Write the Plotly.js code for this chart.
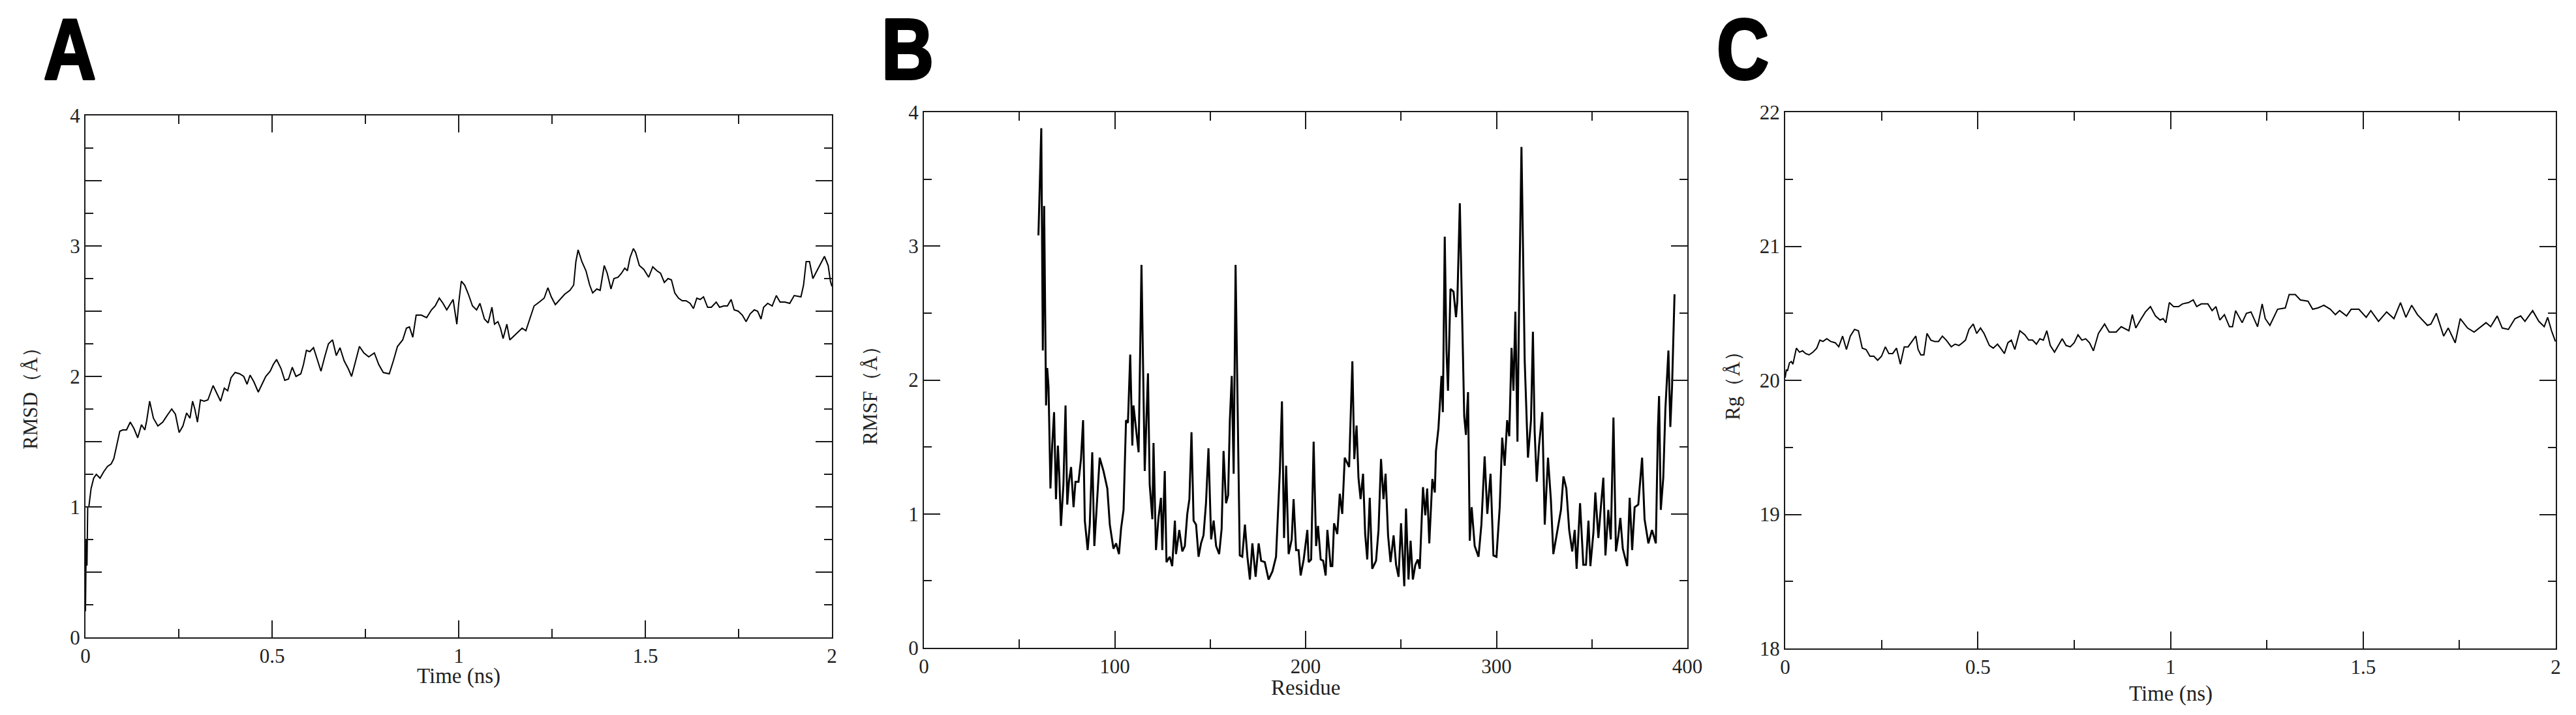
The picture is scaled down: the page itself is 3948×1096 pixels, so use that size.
<!DOCTYPE html>
<html>
<head>
<meta charset="utf-8">
<script src="https://cdn.plot.ly/plotly-3.0.1.min.js"></script>
<style>
  html, body { margin: 0; padding: 0; background: #ffffff; }
  #chart { width: 3948px; height: 1096px; }
</style>
</head>
<body>
<div id="chart"></div>
<script>
// ---------------- Panel A: RMSD vs time ----------------
const rmsdTime = [
  0, 0.002, 0.004, 0.006, 0.009, 0.015, 0.022, 0.029, 0.039, 0.049,
  0.059, 0.069, 0.076, 0.083, 0.092, 0.100, 0.110, 0.120, 0.130, 0.140,
  0.150, 0.159, 0.164, 0.172, 0.182, 0.194, 0.207, 0.221, 0.231, 0.241,
  0.251, 0.261, 0.271, 0.280, 0.287, 0.293, 0.300, 0.308, 0.318, 0.328,
  0.342, 0.352, 0.362, 0.372, 0.381, 0.390, 0.401, 0.413, 0.424, 0.433,
  0.441, 0.451, 0.463, 0.473, 0.483, 0.495, 0.503, 0.512, 0.524, 0.534,
  0.544, 0.554, 0.564, 0.577, 0.584, 0.592, 0.601, 0.611, 0.621, 0.631,
  0.641, 0.651, 0.662, 0.672, 0.682, 0.693, 0.704, 0.713, 0.724, 0.734,
  0.746, 0.759, 0.774, 0.786, 0.798, 0.814, 0.825, 0.836, 0.850, 0.860,
  0.868, 0.877, 0.886, 0.900, 0.914, 0.927, 0.937, 0.948, 0.958, 0.968,
  0.985, 0.995, 1.000, 1.007, 1.016, 1.026, 1.037, 1.048, 1.057, 1.069,
  1.079, 1.089, 1.096, 1.105, 1.112, 1.119, 1.129, 1.137, 1.148, 1.159,
  1.170, 1.180, 1.191, 1.202, 1.216, 1.229, 1.239, 1.248, 1.259, 1.272,
  1.284, 1.298, 1.308, 1.314, 1.320, 1.330, 1.341, 1.351, 1.359, 1.370,
  1.379, 1.390, 1.398, 1.408, 1.416, 1.427, 1.436, 1.445, 1.452, 1.459,
  1.468, 1.474, 1.484, 1.496, 1.509, 1.520, 1.531, 1.541, 1.551, 1.561,
  1.570, 1.579, 1.589, 1.599, 1.609, 1.620, 1.629, 1.638, 1.647, 1.656,
  1.667, 1.677, 1.690, 1.699, 1.710, 1.720, 1.730, 1.738, 1.749, 1.760,
  1.770, 1.781, 1.792, 1.801, 1.810, 1.817, 1.828, 1.840, 1.851, 1.861,
  1.874, 1.887, 1.899, 1.917, 1.924, 1.931, 1.940, 1.949, 1.960, 1.969,
  1.980, 1.990, 1.996, 2.000
];
const rmsdValue = [
  0.20, 0.75, 0.55, 1.00, 1.00, 1.14, 1.22, 1.25, 1.22, 1.27,
  1.31, 1.33, 1.37, 1.47, 1.58, 1.59, 1.59, 1.65, 1.60, 1.53,
  1.63, 1.59, 1.66, 1.81, 1.68, 1.62, 1.65, 1.71, 1.75, 1.71,
  1.57, 1.62, 1.72, 1.68, 1.81, 1.75, 1.65, 1.82, 1.81, 1.82,
  1.93, 1.87, 1.81, 1.91, 1.89, 1.99, 2.03, 2.02, 2.00, 1.94,
  2.01, 1.96, 1.88, 1.94, 2.00, 2.04, 2.09, 2.13, 2.06, 1.97,
  1.98, 2.07, 2.00, 2.02, 2.09, 2.20, 2.19, 2.22, 2.13, 2.04,
  2.15, 2.25, 2.28, 2.16, 2.22, 2.12, 2.06, 2.00, 2.12, 2.23,
  2.18, 2.15, 2.18, 2.09, 2.03, 2.02, 2.12, 2.23, 2.28, 2.37,
  2.38, 2.30, 2.47, 2.47, 2.45, 2.51, 2.54, 2.60, 2.56, 2.51,
  2.59, 2.40, 2.56, 2.73, 2.70, 2.63, 2.54, 2.51, 2.56, 2.44,
  2.41, 2.53, 2.40, 2.42, 2.37, 2.29, 2.40, 2.28, 2.31, 2.34,
  2.37, 2.35, 2.44, 2.54, 2.57, 2.60, 2.68, 2.61, 2.55, 2.59,
  2.63, 2.66, 2.70, 2.88, 2.97, 2.88, 2.81, 2.70, 2.64, 2.67,
  2.66, 2.85, 2.79, 2.67, 2.75, 2.76, 2.79, 2.83, 2.81, 2.91,
  2.98, 2.95, 2.85, 2.82, 2.76, 2.84, 2.81, 2.79, 2.72, 2.75,
  2.74, 2.64, 2.60, 2.58, 2.58, 2.56, 2.52, 2.60, 2.59, 2.61,
  2.53, 2.53, 2.57, 2.53, 2.54, 2.54, 2.59, 2.51, 2.50, 2.47,
  2.42, 2.48, 2.51, 2.50, 2.44, 2.53, 2.56, 2.54, 2.62, 2.57,
  2.57, 2.56, 2.62, 2.61, 2.70, 2.88, 2.88, 2.75, 2.81, 2.86,
  2.92, 2.85, 2.73, 2.69
];

// ---------------- Panel B: RMSF vs residue ----------------
const rmsfResidue = [
  60.0, 61.5, 62.3, 63.0, 64.0, 64.6, 65.3, 66.3, 67.2, 68.2,
  69.2, 70.2, 70.9, 71.8, 73.1, 74.2, 75.1, 76.0, 77.1, 78.4,
  79.4, 81.0, 82.3, 83.4, 84.3, 85.8, 86.9, 88.2, 89.3, 90.6,
  92.1, 94.1, 96.1, 97.4, 99.3, 100.7, 102.2, 103.3, 104.6, 105.9,
  106.9, 108.1, 109.2, 109.8, 111.1, 112.5, 114.0, 114.8, 115.7, 117.4,
  118.3, 119.7, 120.3, 121.6, 122.9, 124.2, 124.9, 126.2, 127.1, 128.8,
  130.1, 131.5, 132.1, 133.8, 135.4, 136.7, 138.0, 139.1, 140.2, 141.3,
  142.6, 143.9, 145.2, 146.5, 147.8, 149.1, 150.5, 151.8, 153.1, 154.7,
  156.0, 157.0, 158.3, 159.4, 160.3, 161.3, 162.3, 163.3, 164.4, 165.5,
  166.8, 168.2, 169.5, 170.8, 172.1, 173.8, 175.4, 176.7, 178.6, 180.6,
  182.6, 184.5, 186.5, 187.6, 188.7, 189.8, 191.1, 192.7, 193.7, 195.0,
  196.3, 197.4, 199.0, 200.9, 201.6, 202.9, 204.2, 205.5, 206.5, 207.9,
  209.2, 210.5, 211.4, 213.1, 214.0, 214.9, 216.6, 217.9, 219.2, 220.5,
  222.8, 224.5, 225.5, 226.7, 227.7, 228.8, 230.1, 231.2, 232.3, 233.6,
  234.9, 236.9, 238.2, 239.5, 240.8, 241.9, 243.2, 244.5, 246.1, 247.4,
  248.7, 250.0, 251.7, 252.6, 253.9, 255.0, 256.2, 257.5, 258.8, 259.8,
  261.5, 262.7, 263.7, 264.8, 266.4, 267.7, 268.3, 269.6, 271.2, 271.9,
  272.9, 273.8, 274.6, 275.9, 277.5, 278.8, 279.5, 280.8, 281.7, 283.1,
  284.0, 285.1, 286.0, 287.0, 288.6, 290.6, 292.1, 293.8, 295.2, 296.9,
  298.4, 300.0, 301.7, 303.0, 304.3, 305.6, 306.7, 307.9, 308.9, 309.9,
  311.0, 311.8, 313.1, 314.8, 316.5, 318.1, 319.1, 320.0, 321.1, 322.3,
  324.0, 325.3, 327.0, 328.5, 329.8, 331.8, 333.8, 335.1, 336.6, 338.1,
  339.7, 341.0, 342.0, 343.8, 345.5, 346.9, 348.2, 349.2, 350.8, 351.8,
  353.4, 354.7, 356.0, 357.1, 358.6, 359.9, 361.3, 362.6, 363.9, 364.9,
  366.2, 368.5, 369.8, 371.1, 372.4, 374.3, 376.3, 377.6, 379.6, 381.5,
  383.5, 384.6, 385.2, 386.1, 387.4, 388.5, 390.1, 391.1, 392.0, 393.3
];
const rmsfValue = [
  3.08, 3.88, 2.22, 3.30, 1.81, 2.09, 1.95, 1.19, 1.51, 1.76,
  1.11, 1.51, 1.30, 0.91, 1.22, 1.81, 1.07, 1.24, 1.35, 1.05,
  1.24, 1.24, 1.41, 1.70, 0.95, 0.73, 0.92, 1.46, 0.76, 1.05,
  1.42, 1.32, 1.19, 0.92, 0.74, 0.78, 0.70, 0.89, 1.03, 1.70,
  1.68, 2.19, 1.51, 1.81, 1.65, 1.46, 2.86, 2.14, 1.32, 2.05,
  1.22, 0.96, 1.53, 0.73, 0.97, 1.12, 0.73, 1.32, 0.64, 0.68,
  0.61, 0.95, 0.70, 0.88, 0.72, 0.76, 1.00, 1.11, 1.61, 0.95,
  0.92, 0.68, 0.78, 0.84, 1.08, 1.49, 0.81, 0.95, 0.76, 0.70,
  0.89, 1.47, 1.08, 1.14, 1.70, 2.03, 1.30, 2.86, 1.86, 0.69,
  0.68, 0.92, 0.68, 0.51, 0.78, 0.53, 0.78, 0.65, 0.64, 0.51,
  0.57, 0.68, 1.32, 1.84, 0.82, 1.36, 0.70, 0.81, 1.11, 0.73,
  0.73, 0.54, 0.66, 0.88, 0.64, 0.66, 1.54, 0.76, 0.91, 0.66,
  0.65, 0.54, 0.88, 0.61, 0.61, 0.93, 0.85, 1.15, 1.00, 1.42,
  1.35, 2.14, 1.41, 1.66, 1.27, 1.11, 1.30, 0.85, 0.66, 1.12,
  0.59, 0.65, 0.88, 1.41, 1.11, 1.30, 0.84, 0.64, 0.84, 0.62,
  0.53, 0.93, 0.46, 1.04, 0.51, 0.80, 0.51, 0.62, 0.66, 0.59,
  1.20, 0.99, 1.19, 0.78, 1.26, 1.16, 1.47, 1.64, 2.03, 1.76,
  3.07, 2.22, 1.92, 2.68, 2.66, 2.47, 2.59, 3.32, 2.70, 1.73,
  1.59, 1.91, 0.80, 1.05, 0.76, 0.68, 0.92, 1.43, 1.00, 1.30,
  0.69, 0.68, 1.05, 1.57, 1.36, 1.70, 1.58, 2.24, 1.92, 2.51,
  1.54, 2.50, 3.74, 2.14, 1.42, 1.70, 2.36, 1.62, 1.24, 1.51,
  1.76, 0.92, 1.42, 1.11, 0.70, 0.86, 1.03, 1.28, 1.19, 0.88,
  0.72, 0.88, 0.59, 1.08, 0.62, 0.62, 0.95, 0.61, 0.86, 1.16,
  0.82, 1.05, 1.27, 0.69, 1.03, 0.81, 1.72, 0.72, 0.84, 0.97,
  0.74, 0.61, 1.12, 0.73, 1.05, 1.07, 1.42, 0.96, 0.78, 0.88,
  0.78, 1.64, 1.88, 1.03, 1.27, 1.78, 2.22, 1.65, 1.95, 2.64
];

// ---------------- Panel C: Rg vs time ----------------
const rgTime = [
  0, 0.003, 0.006, 0.011, 0.016, 0.020, 0.029, 0.037, 0.045, 0.053,
  0.062, 0.072, 0.082, 0.090, 0.098, 0.108, 0.118, 0.130, 0.139, 0.149,
  0.159, 0.169, 0.180, 0.190, 0.200, 0.210, 0.220, 0.230, 0.240, 0.250,
  0.260, 0.269, 0.279, 0.289, 0.299, 0.309, 0.319, 0.329, 0.339, 0.345,
  0.352, 0.360, 0.368, 0.378, 0.388, 0.398, 0.408, 0.418, 0.431, 0.441,
  0.451, 0.460, 0.468, 0.477, 0.488, 0.497, 0.507, 0.516, 0.530, 0.540,
  0.551, 0.559, 0.569, 0.578, 0.587, 0.596, 0.609, 0.622, 0.632, 0.642,
  0.652, 0.661, 0.670, 0.679, 0.688, 0.699, 0.709, 0.719, 0.729, 0.740,
  0.750, 0.760, 0.770, 0.780, 0.790, 0.800, 0.813, 0.829, 0.841, 0.859,
  0.872, 0.885, 0.892, 0.901, 0.910, 0.922, 0.935, 0.948, 0.961, 0.973,
  0.981, 0.988, 0.997, 1.008, 1.021, 1.031, 1.047, 1.059, 1.068, 1.080,
  1.097, 1.108, 1.118, 1.128, 1.140, 1.153, 1.161, 1.169, 1.186, 1.197,
  1.209, 1.226, 1.238, 1.246, 1.258, 1.278, 1.298, 1.308, 1.324, 1.337,
  1.357, 1.369, 1.383, 1.398, 1.415, 1.428, 1.439, 1.457, 1.469, 1.489,
  1.508, 1.520, 1.540, 1.561, 1.580, 1.597, 1.611, 1.626, 1.641, 1.667,
  1.676, 1.690, 1.709, 1.721, 1.739, 1.752, 1.771, 1.788, 1.805, 1.819,
  1.831, 1.848, 1.861, 1.877, 1.894, 1.909, 1.920, 1.940, 1.956, 1.970,
  1.979, 1.989, 1.999
];
const rgValue = [
  20.02, 20.08, 20.07, 20.13, 20.14, 20.12, 20.24, 20.21, 20.22, 20.20,
  20.19, 20.21, 20.24, 20.30, 20.29, 20.31, 20.29, 20.28, 20.25, 20.33,
  20.23, 20.33, 20.38, 20.37, 20.24, 20.23, 20.18, 20.18, 20.15, 20.18,
  20.25, 20.20, 20.20, 20.24, 20.12, 20.25, 20.25, 20.29, 20.33, 20.23,
  20.19, 20.19, 20.35, 20.30, 20.29, 20.29, 20.33, 20.30, 20.25, 20.27,
  20.26, 20.28, 20.30, 20.38, 20.42, 20.35, 20.39, 20.35, 20.26, 20.24,
  20.27, 20.24, 20.20, 20.28, 20.30, 20.23, 20.37, 20.34, 20.30, 20.30,
  20.27, 20.31, 20.30, 20.37, 20.26, 20.21, 20.26, 20.31, 20.26, 20.25,
  20.28, 20.34, 20.30, 20.31, 20.28, 20.22, 20.35, 20.42, 20.36, 20.36,
  20.40, 20.38, 20.37, 20.49, 20.39, 20.45, 20.51, 20.55, 20.48, 20.45,
  20.46, 20.43, 20.58, 20.55, 20.55, 20.57, 20.58, 20.60, 20.55, 20.57,
  20.57, 20.52, 20.55, 20.45, 20.49, 20.40, 20.40, 20.52, 20.43, 20.50,
  20.51, 20.40, 20.57, 20.46, 20.41, 20.53, 20.54, 20.64, 20.64, 20.60,
  20.59, 20.53, 20.54, 20.56, 20.53, 20.49, 20.52, 20.48, 20.53, 20.53,
  20.47, 20.52, 20.44, 20.51, 20.46, 20.58, 20.47, 20.56, 20.49, 20.41,
  20.42, 20.50, 20.33, 20.39, 20.28, 20.46, 20.39, 20.36, 20.40, 20.43,
  20.40, 20.48, 20.39, 20.38, 20.46, 20.48, 20.44, 20.52, 20.44, 20.40,
  20.47, 20.37, 20.29
];

// Tick labels
const timeTicks = [0, 0.5, 1, 1.5, 2];
const timeTickText = ['0', '0.5', '1', '1.5', '2'];
const rmsdTicks = [0, 0.5, 1, 1.5, 2, 2.5, 3, 3.5, 4];
const rmsdTickText = ['0', '', '1', '', '2', '', '3', '', '4'];
const residueTicks = [0, 100, 200, 300, 400];
const residueTickText = ['0', '100', '200', '300', '400'];
const rmsfTicks = [0, 1, 2, 3, 4];
const rmsfTickText = ['0', '1', '2', '3', '4'];
const rgTicks = [18, 19, 20, 21, 22];
const rgTickText = ['18', '19', '20', '21', '22'];

// Text
const panelLabels = ['A', 'B', 'C'];
const yTitles = ['RMSD（Å）', 'RMSF（Å）', 'Rg（Å）'];
const xTitles = ['Time (ns)', 'Residue', 'Time (ns)'];

// ---------------- Layout helpers ----------------
const W = 3948, H = 1096;
const px = v => v / W;
const py = v => 1 - v / H;
const INK = '#1a1a1a';
const serif = 'Liberation Serif, Times New Roman, Times, serif';

function axis(extra) {
  return Object.assign({
    showline: true, linecolor: INK, linewidth: 2, mirror: 'ticks',
    ticks: 'inside', tickcolor: INK, tickwidth: 2, ticklen: 26,
    showgrid: false, zeroline: false, fixedrange: true,
    tickmode: 'array',
    tickfont: { family: serif, size: 31, color: '#222' }
  }, extra);
}
function minor(dt) {
  return { tickmode: 'linear', tick0: 0, dtick: dt, ticks: 'inside', ticklen: 13, tickwidth: 2, tickcolor: INK, showgrid: false };
}

const lineStyle = w => ({ color: '#000000', width: w, shape: 'linear' });

const traces = [
  { x: rmsdTime, y: rmsdValue, type: 'scatter', mode: 'lines', line: lineStyle(2), xaxis: 'x', yaxis: 'y', hoverinfo: 'skip' },
  { x: rmsfResidue, y: rmsfValue, type: 'scatter', mode: 'lines', line: lineStyle(3), xaxis: 'x2', yaxis: 'y2', hoverinfo: 'skip' },
  { x: rgTime, y: rgValue, type: 'scatter', mode: 'lines', line: lineStyle(2), xaxis: 'x3', yaxis: 'y3', hoverinfo: 'skip' }
];

const letterFont = { family: 'Liberation Sans, Arial, sans-serif', size: 132, color: '#000', weight: 'bold' };
const titleFont = { family: serif, size: 31, color: '#222' };
const xTitleFont = { family: serif, size: 33, color: '#222' };

const ann = [];
// panel letters
[[65, panelLabels[0]], [1349, panelLabels[1]], [2629, panelLabels[2]]].forEach(([x, t]) => {
  ann.push({ text: t, xref: 'paper', yref: 'paper', x: px(x), y: py(75), xanchor: 'left', yanchor: 'middle', showarrow: false, font: letterFont });
});
// y titles
[[46, 603, yTitles[0]], [1333, 599, yTitles[1]], [2655, 584, yTitles[2]]].forEach(([x, y, t]) => {
  ann.push({ text: t, xref: 'paper', yref: 'paper', x: px(x), y: py(y), xanchor: 'center', yanchor: 'middle', textangle: -90, showarrow: false, font: titleFont });
});
// x titles
[[703, 1036, xTitles[0]], [2001, 1054, xTitles[1]], [3327, 1063, xTitles[2]]].forEach(([x, y, t]) => {
  ann.push({ text: t, xref: 'paper', yref: 'paper', x: px(x), y: py(y), xanchor: 'center', yanchor: 'middle', showarrow: false, font: xTitleFont });
});

const layout = {
  width: W, height: H,
  margin: { l: 0, r: 0, t: 0, b: 0 },
  paper_bgcolor: '#ffffff', plot_bgcolor: '#ffffff',
  showlegend: false,
  xaxis: axis({ domain: [px(131), px(1275)], anchor: 'y', range: [0, 2], tickvals: timeTicks, ticktext: timeTickText, minor: minor(0.25) }),
  yaxis: axis({ domain: [py(977), py(177)], anchor: 'x', range: [0, 4], tickvals: rmsdTicks, ticktext: rmsdTickText, ticklen: 25, minor: Object.assign(minor(0.25), { ticklen: 12 }) }),
  xaxis2: axis({ domain: [px(1416), px(2586)], anchor: 'y2', range: [0, 400], tickvals: residueTicks, ticktext: residueTickText, minor: minor(50) }),
  yaxis2: axis({ domain: [py(993), py(172)], anchor: 'x2', range: [0, 4], tickvals: rmsfTicks, ticktext: rmsfTickText, ticklen: 25, minor: Object.assign(minor(0.5), { ticklen: 12 }) }),
  xaxis3: axis({ domain: [px(2736), px(3917)], anchor: 'y3', range: [0, 2], tickvals: timeTicks, ticktext: timeTickText, minor: minor(0.25) }),
  yaxis3: axis({ domain: [py(994), py(172)], anchor: 'x3', range: [18, 22], tickvals: rgTicks, ticktext: rgTickText, ticklen: 25, minor: Object.assign(minor(0.5), { tick0: 18, ticklen: 12 }) }),
  annotations: ann
};

Plotly.newPlot('chart', traces, layout, { staticPlot: true, displayModeBar: false }).then(gd => {
  // Condense and embolden the panel letters (they stay real SVG text)
  gd.querySelectorAll('text.annotation-text').forEach(t => {
    if (panelLabels.indexOf(t.textContent) >= 0) {
      const b = t.getBBox();
      const x0 = b.x;
      t.setAttribute('transform', 'translate(' + x0 + ',0) scale(0.84,1) translate(' + (-x0) + ',0)');
      t.style.stroke = '#000';
      t.style.strokeWidth = '4px';
      t.style.strokeLinejoin = 'round';
    }
  });
});
</script>
</body>
</html>
